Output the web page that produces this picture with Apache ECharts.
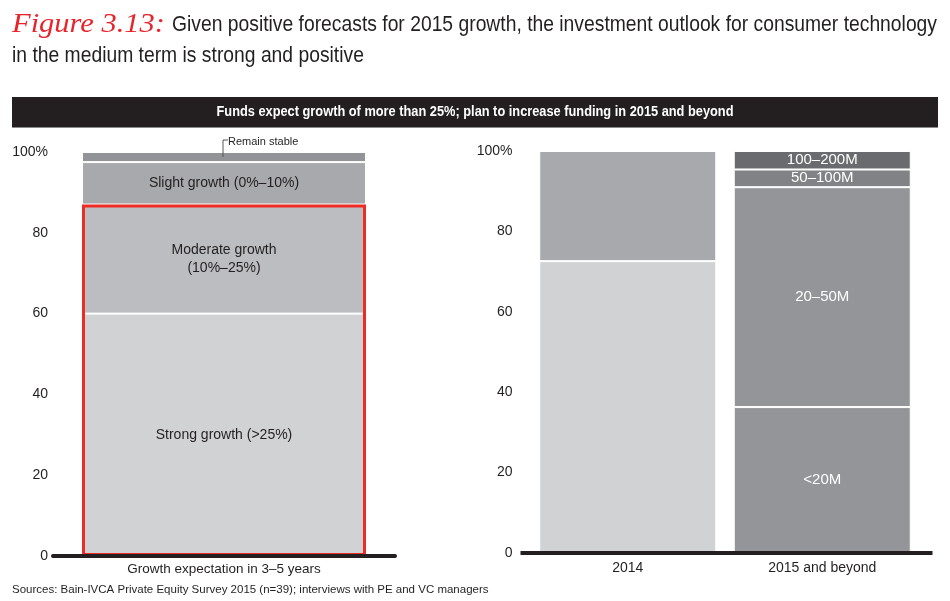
<!DOCTYPE html>
<html>
<head>
<meta charset="utf-8">
<script src="https://cdn.jsdelivr.net/npm/echarts@6/dist/echarts.min.js"></script>
<style>
html,body{margin:0;padding:0;background:#fff;}
#c{width:950px;height:601px;}
</style>
</head>
<body>
<div id="c"></div>
<script>
// ---- data ----
const leftCategories = ['Growth expectation in 3–5 years'];
const strongGrowth = [60];
const moderateGrowth = [27];
const slightGrowth = [10.5];
const remainStable = [2.5];

const rightCategories = ['2014', '2015 and beyond'];
const y2014Lower = [72.6, '-'];
const y2014Upper = [27.4, '-'];
const fundLt20 = ['-', 36.3];
const fund20to50 = ['-', 54.7];
const fund50to100 = ['-', 4.4];
const fund100to200 = ['-', 4.6];

const figureLabel = 'Figure 3.13:';
const titleMain = 'Given positive forecasts for 2015 growth, the investment outlook for consumer technology';
const titleLine2 = 'in the medium term is strong and positive';
const headerText = 'Funds expect growth of more than 25%; plan to increase funding in 2015 and beyond';
const sourceText = 'Sources: Bain-IVCA Private Equity Survey 2015 (n=39); interviews with PE and VC managers';

// ---- chart ----
const FONT = "'Liberation Sans',sans-serif";
const TXT = '#231f20';
const chart = echarts.init(document.getElementById('c'), null, {renderer: 'canvas'});

const measureCtx = document.createElement('canvas').getContext('2d');
function textWidth(text, font) { measureCtx.font = font; return measureCtx.measureText(text).width; }

const yLabelFmt = v => (v === 100 ? '100%' : String(v));

function inLabel(text, color, size) {
  return {show: true, position: 'inside', formatter: text, color: color || TXT,
    fontFamily: FONT, fontSize: size || 14, lineHeight: 18};
}
const border = {borderColor: '#ffffff', borderWidth: 1};

const redBox = strongGrowth.map((v, i) => v + moderateGrowth[i]);

const option = {
  animation: false,
  grid: [
    {left: 53, top: 152, width: 342, height: 404},
    {left: 530.5, top: 151, width: 389, height: 402}
  ],
  xAxis: [
    {type: 'category', gridIndex: 0, data: leftCategories, z: 5,
      axisLine: {show: true, lineStyle: {color: TXT, width: 4}},
      axisTick: {show: false},
      axisLabel: {color: TXT, fontFamily: FONT, fontSize: 13.5, margin: 6}},
    {type: 'category', gridIndex: 1, data: rightCategories, z: 5,
      axisLine: {show: false},
      axisTick: {show: false},
      axisLabel: {color: TXT, fontFamily: FONT, fontSize: 14, margin: 8}}
  ],
  yAxis: [
    {type: 'value', gridIndex: 0, min: 0, max: 100, interval: 20,
      axisLine: {show: false}, axisTick: {show: false}, splitLine: {show: false},
      axisLabel: {formatter: yLabelFmt, color: TXT, fontFamily: FONT, fontSize: 14, margin: 5}},
    {type: 'value', gridIndex: 1, min: 0, max: 100, interval: 20,
      axisLine: {show: false}, axisTick: {show: false}, splitLine: {show: false},
      axisLabel: {formatter: yLabelFmt, color: TXT, fontFamily: FONT, fontSize: 14, margin: 18}}
  ],
  series: [
    {name: 'Strong growth', type: 'bar', xAxisIndex: 0, yAxisIndex: 0, stack: 'L', barWidth: 284, barGap: '-100%',
      data: strongGrowth, itemStyle: Object.assign({color: '#d1d2d4'}, border),
      label: inLabel('Strong growth (>25%)')},
    {name: 'Moderate growth', type: 'bar', xAxisIndex: 0, yAxisIndex: 0, stack: 'L', barWidth: 284, barGap: '-100%',
      data: moderateGrowth, itemStyle: Object.assign({color: '#bbbdc0'}, border),
      label: inLabel('Moderate growth\n(10%–25%)')},
    {name: 'Slight growth', type: 'bar', xAxisIndex: 0, yAxisIndex: 0, stack: 'L', barWidth: 284, barGap: '-100%',
      data: slightGrowth, itemStyle: Object.assign({color: '#a7a9ac'}, border),
      label: inLabel('Slight growth (0%–10%)')},
    {name: 'Remain stable', type: 'bar', xAxisIndex: 0, yAxisIndex: 0, stack: 'L', barWidth: 284, barGap: '-100%',
      data: remainStable, itemStyle: Object.assign({color: '#929497'}, border)},
    {name: 'Highlight', type: 'bar', xAxisIndex: 0, yAxisIndex: 0, barWidth: 284, barGap: '-100%', z: 3,
      data: redBox, silent: true,
      itemStyle: {color: 'rgba(0,0,0,0)', borderColor: '#ee2b24', borderWidth: 3}},

    {name: '2014 lower', type: 'bar', xAxisIndex: 1, yAxisIndex: 1, stack: 'R', barWidth: 177,
      data: y2014Lower, itemStyle: Object.assign({color: '#d1d2d4'}, border)},
    {name: '2014 upper', type: 'bar', xAxisIndex: 1, yAxisIndex: 1, stack: 'R', barWidth: 177,
      data: y2014Upper, itemStyle: Object.assign({color: '#a7a9ac'}, border)},
    {name: '<20M', type: 'bar', xAxisIndex: 1, yAxisIndex: 1, stack: 'R', barWidth: 177,
      data: fundLt20, itemStyle: Object.assign({color: '#939598'}, border),
      label: inLabel('<20M', '#ffffff', 15)},
    {name: '20–50M', type: 'bar', xAxisIndex: 1, yAxisIndex: 1, stack: 'R', barWidth: 177,
      data: fund20to50, itemStyle: Object.assign({color: '#939598'}, border),
      label: inLabel('20–50M', '#ffffff', 15)},
    {name: '50–100M', type: 'bar', xAxisIndex: 1, yAxisIndex: 1, stack: 'R', barWidth: 177,
      data: fund50to100, itemStyle: Object.assign({color: '#808285'}, border),
      label: inLabel('50–100M', '#ffffff', 15)},
    {name: '100–200M', type: 'bar', xAxisIndex: 1, yAxisIndex: 1, stack: 'R', barWidth: 177,
      data: fund100to200, itemStyle: Object.assign({color: '#6a6b6e'}, border),
      label: inLabel('100–200M', '#ffffff', 15)}
  ]
};
chart.setOption(option);

// annotations positioned from the chart's own scales
const leftTop = chart.convertToPixel({xAxisIndex: 0, yAxisIndex: 0}, [0, 100]);
const rZeroA = chart.convertToPixel({xAxisIndex: 1, yAxisIndex: 1}, [0, 0]);
const rZeroB = chart.convertToPixel({xAxisIndex: 1, yAxisIndex: 1}, [1, 0]);
const half = (rZeroB[0] - rZeroA[0]) / 2;
const bx = leftTop[0] - 1, by = leftTop[1];

// condensed look: horizontal scaling to match the reference's narrow typeface
const titleFont = "22px 'Liberation Sans'";
const titleScale = 765 / textWidth(titleMain, titleFont);
const figFont = "italic 28px 'Liberation Serif'";
const figScale = 153 / textWidth(figureLabel, figFont);
const headFont = "bold 14px 'Liberation Sans'";
const headScale = 517 / textWidth(headerText, headFont);

chart.setOption({
  graphic: [
    {type: 'text', x: 12, y: 25, scaleX: figScale, style: {text: figureLabel,
      font: figFont, fill: '#e8242b', verticalAlign: 'middle'}},
    {type: 'text', x: 172, y: 25, scaleX: titleScale, style: {text: titleMain,
      font: titleFont, fill: TXT, verticalAlign: 'middle'}},
    {type: 'text', x: 12, y: 56, scaleX: titleScale, style: {text: titleLine2,
      font: titleFont, fill: TXT, verticalAlign: 'middle'}},
    {type: 'rect', shape: {x: 12, y: 97, width: 926, height: 30}, style: {fill: '#231f20'}},
    {type: 'line', shape: {x1: 12, y1: 127.5, x2: 938, y2: 127.5}, style: {stroke: '#8a8a8a', lineWidth: 1}},
    {type: 'text', x: 475, y: 112, scaleX: headScale, style: {text: headerText, font: headFont,
      fill: '#ffffff', align: 'center', verticalAlign: 'middle'}},
    {type: 'line', shape: {x1: rZeroA[0] - half - 10, y1: rZeroA[1], x2: rZeroB[0] + half + 13, y2: rZeroA[1]},
      style: {stroke: TXT, lineWidth: 4}, z: 10},
    {type: 'polyline', shape: {points: [[bx + 5, by - 12], [bx, by - 12], [bx, by + 5]]},
      style: {stroke: '#555', lineWidth: 1, fill: null}, z: 10},
    {type: 'text', x: bx + 5, y: by - 10, style: {text: 'Remain stable', fontFamily: FONT, fontSize: 11,
      fill: TXT, verticalAlign: 'middle'}, z: 10},
    {type: 'text', left: 12, top: 584, style: {text: sourceText, fontFamily: FONT, fontSize: 11.5, fill: TXT}}
  ]
});
</script>
</body>
</html>
